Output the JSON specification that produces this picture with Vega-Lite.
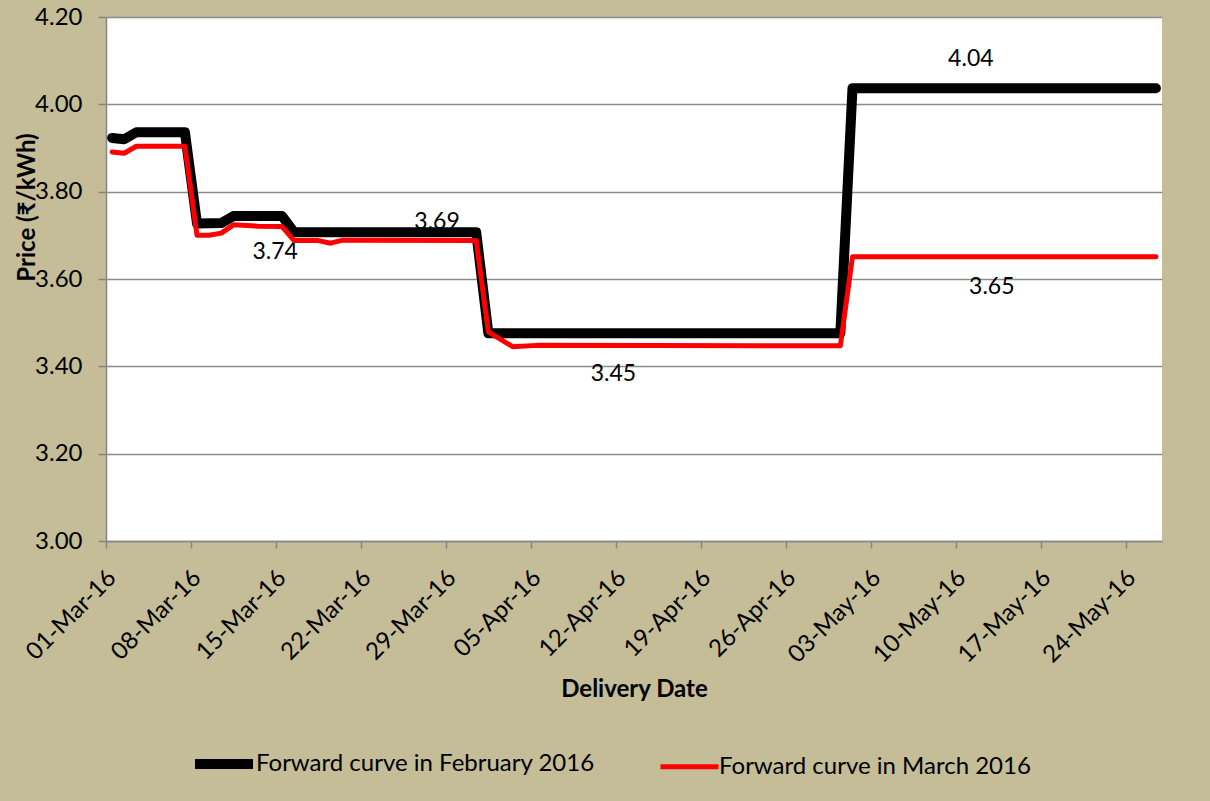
{
  "$schema": "https://vega.github.io/schema/vega-lite/v6.json",
  "width": 1056,
  "height": 524,
  "autosize": "none",
  "padding": {"left": 106, "top": 17, "right": 48, "bottom": 260},
  "background": "#C4BD97",
  "config": {
    "view": {"fill": "white", "stroke": null},
    "font": "Lato",
    "axis": {"labelColor": "black", "labelFontSize": 24, "labelFont": "Lato", "titleFont": "Lato", "titleFontSize": 24, "titleFontWeight": "bold", "titleColor": "black", "domainColor": "#868686", "domainWidth": 1.5, "tickColor": "#868686", "tickWidth": 1.5, "gridColor": "#8C8C8C", "gridWidth": 1.5, "labelOverlap": false}
  },
  "datasets": {
    "curves": [
      {"series": "Forward curve in February 2016", "date": "2016-03-01", "price": 3.923},
      {"series": "Forward curve in February 2016", "date": "2016-03-02", "price": 3.920},
      {"series": "Forward curve in February 2016", "date": "2016-03-03", "price": 3.936},
      {"series": "Forward curve in February 2016", "date": "2016-03-07", "price": 3.936},
      {"series": "Forward curve in February 2016", "date": "2016-03-08", "price": 3.727},
      {"series": "Forward curve in February 2016", "date": "2016-03-10", "price": 3.728},
      {"series": "Forward curve in February 2016", "date": "2016-03-11", "price": 3.744},
      {"series": "Forward curve in February 2016", "date": "2016-03-15", "price": 3.744},
      {"series": "Forward curve in February 2016", "date": "2016-03-16", "price": 3.707},
      {"series": "Forward curve in February 2016", "date": "2016-03-31", "price": 3.707},
      {"series": "Forward curve in February 2016", "date": "2016-04-01", "price": 3.476},
      {"series": "Forward curve in February 2016", "date": "2016-04-30", "price": 3.476},
      {"series": "Forward curve in February 2016", "date": "2016-05-01", "price": 4.037},
      {"series": "Forward curve in February 2016", "date": "2016-05-26", "price": 4.037},
      {"series": "Forward curve in March 2016", "date": "2016-03-01", "price": 3.891},
      {"series": "Forward curve in March 2016", "date": "2016-03-02", "price": 3.888},
      {"series": "Forward curve in March 2016", "date": "2016-03-03", "price": 3.904},
      {"series": "Forward curve in March 2016", "date": "2016-03-07", "price": 3.904},
      {"series": "Forward curve in March 2016", "date": "2016-03-08", "price": 3.700},
      {"series": "Forward curve in March 2016", "date": "2016-03-09", "price": 3.700},
      {"series": "Forward curve in March 2016", "date": "2016-03-10", "price": 3.705},
      {"series": "Forward curve in March 2016", "date": "2016-03-11", "price": 3.724},
      {"series": "Forward curve in March 2016", "date": "2016-03-13", "price": 3.721},
      {"series": "Forward curve in March 2016", "date": "2016-03-15", "price": 3.720},
      {"series": "Forward curve in March 2016", "date": "2016-03-16", "price": 3.688},
      {"series": "Forward curve in March 2016", "date": "2016-03-18", "price": 3.688},
      {"series": "Forward curve in March 2016", "date": "2016-03-19", "price": 3.682},
      {"series": "Forward curve in March 2016", "date": "2016-03-20", "price": 3.689},
      {"series": "Forward curve in March 2016", "date": "2016-03-31", "price": 3.688},
      {"series": "Forward curve in March 2016", "date": "2016-04-01", "price": 3.479},
      {"series": "Forward curve in March 2016", "date": "2016-04-03", "price": 3.445},
      {"series": "Forward curve in March 2016", "date": "2016-04-05", "price": 3.448},
      {"series": "Forward curve in March 2016", "date": "2016-04-30", "price": 3.447},
      {"series": "Forward curve in March 2016", "date": "2016-05-01", "price": 3.651},
      {"series": "Forward curve in March 2016", "date": "2016-05-26", "price": 3.651}
    ],
    "labels": [
      {"label": "3.74", "date": "2016-03-14T22:30:00Z", "price": 3.6625},
      {"label": "3.69", "date": "2016-03-28T06:30:00Z", "price": 3.731},
      {"label": "3.45", "date": "2016-04-11T19:10:00Z", "price": 3.382},
      {"label": "4.04", "date": "2016-05-11T06:00:00Z", "price": 4.104},
      {"label": "3.65", "date": "2016-05-12T23:30:00Z", "price": 3.582}
    ]
  },
  "layer": [
    {
      "data": {"name": "labels"},
      "mark": {"type": "text", "font": "Lato", "fontSize": 23, "color": "black", "align": "center", "baseline": "middle"},
      "encoding": {
        "x": {"field": "date", "type": "temporal"},
        "y": {"field": "price", "type": "quantitative"},
        "text": {"field": "label", "type": "nominal"}
      }
    },
    {
      "data": {"name": "curves"},
      "mark": {"type": "line", "strokeCap": "round", "strokeJoin": "round"},
      "encoding": {
        "x": {
          "field": "date", "type": "temporal", "timeUnit": "utcyearmonthdate", "bandPosition": 0.5,
          "title": "Delivery Date",
          "scale": {"type": "utc", "domain": [{"year": 2016, "month": 3, "date": 1, "utc": true}, {"year": 2016, "month": 5, "date": 27, "utc": true}]},
          "axis": {
            "values": [
              {"year": 2016, "month": 3, "date": 1, "utc": true},
              {"year": 2016, "month": 3, "date": 8, "utc": true},
              {"year": 2016, "month": 3, "date": 15, "utc": true},
              {"year": 2016, "month": 3, "date": 22, "utc": true},
              {"year": 2016, "month": 3, "date": 29, "utc": true},
              {"year": 2016, "month": 4, "date": 5, "utc": true},
              {"year": 2016, "month": 4, "date": 12, "utc": true},
              {"year": 2016, "month": 4, "date": 19, "utc": true},
              {"year": 2016, "month": 4, "date": 26, "utc": true},
              {"year": 2016, "month": 5, "date": 3, "utc": true},
              {"year": 2016, "month": 5, "date": 10, "utc": true},
              {"year": 2016, "month": 5, "date": 17, "utc": true},
              {"year": 2016, "month": 5, "date": 24, "utc": true}
            ],
            "labelExpr": "utcFormat(datum.value, '%d-%b-%y')",
            "grid": false, "tickSize": 7, "labelAngle": -45, "labelAlign": "right", "labelBaseline": "middle", "labelPadding": 26, "labelOffset": 6,
            "titleY": 148, "titleBaseline": "middle"
          }
        },
        "y": {
          "field": "price", "type": "quantitative",
          "title": "Price (₹/kWh)",
          "scale": {"domain": [3, 4.2], "nice": false, "zero": false},
          "axis": {"values": [3, 3.2, 3.4, 3.6, 3.8, 4, 4.2], "format": ".2f", "grid": true, "tickSize": 8, "labelPadding": 16,
                   "titleX": -79, "titleY": 190, "titleAngle": -90, "titleAlign": "center", "titleBaseline": "middle"}
        },
        "color": {
          "field": "series", "type": "nominal",
          "scale": {"domain": ["Forward curve in February 2016", "Forward curve in March 2016"], "range": ["#000000", "#FF0000"]},
          "legend": {"orient": "none", "legendX": 84, "legendY": 713, "direction": "horizontal", "title": null,
                     "symbolType": "stroke", "symbolSize": 3364, "labelFont": "Lato", "labelFontSize": 24, "labelColor": "black",
                     "labelOffset": -2, "columnPadding": 55, "labelLimit": 0}
        },
        "strokeWidth": {
          "field": "series", "type": "nominal",
          "scale": {"type": "ordinal", "domain": ["Forward curve in February 2016", "Forward curve in March 2016"], "range": [10, 5]}
        }
      }
    }
  ]
}
